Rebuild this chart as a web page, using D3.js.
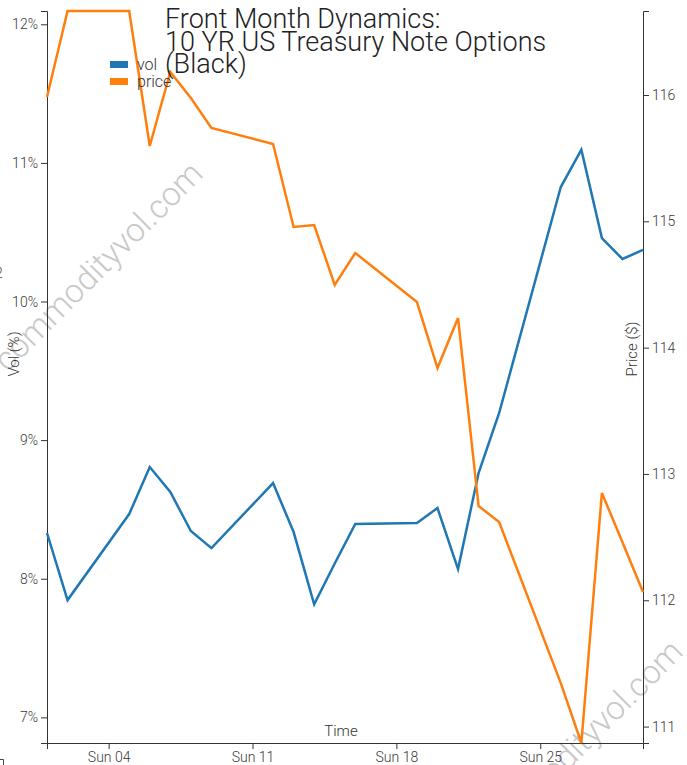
<!DOCTYPE html>
<html>
<head>
<meta charset="utf-8">
<script src="https://cdn.jsdelivr.net/npm/d3@7"></script>
<style>
  html, body { margin: 0; padding: 0; background: #fff; }
  svg { display: block; font-family: Roboto, sans-serif; }
</style>
</head>
<body>
<svg id="chart" width="687" height="765"></svg>
<script>
// ---- data ----
const dates = ["2018-03-01","2018-03-02","2018-03-05","2018-03-06","2018-03-07","2018-03-08","2018-03-09",
  "2018-03-12","2018-03-13","2018-03-14","2018-03-15","2018-03-16",
  "2018-03-19","2018-03-20","2018-03-21","2018-03-22","2018-03-23",
  "2018-03-26","2018-03-27","2018-03-28","2018-03-29","2018-03-30"];
const volValues = [8.33, 7.846, 8.467, 8.806, 8.626, 8.344, 8.221,
  8.69, 8.337, 7.815, 8.11, 8.395,
  8.402, 8.51, 8.07, 8.763, 9.196,
  10.826, 11.096, 10.458, 10.307, 10.372];
const priceValues = [115.984, 116.665, 116.665, 115.596, 116.182, 115.976, 115.739,
  115.612, 114.955, 114.971, 114.496, 114.749,
  114.361, 113.838, 114.234, 112.746, 112.619,
  111.344, 110.87, 112.849, 112.46, 112.065];
const seriesNames = ["vol", "price"];
const seriesColors = ["#1f77b4", "#ff7f0e"];
const titleLines = ["Front Month Dynamics:", "10 YR US Treasury Note Options", "(Black)"];
const watermark = "commodityvol.com";

// ---- layout ----
const svg = d3.select("#chart");
const L = 47, R = 643, T = 11, B = 743;
const parse = d3.timeParse("%Y-%m-%d");
const rows = dates.map((d, i) => ({ date: parse(d), vol: volValues[i], price: priceValues[i] }));

const x = d3.scaleTime().domain(d3.extent(rows, d => d.date)).range([L, R]);
const volExt = d3.extent(volValues);
const yVol = d3.scaleLinear().domain([volExt[0] - 1, volExt[1] + 1]).range([B, T]);
const yPrice = d3.scaleLinear().domain(d3.extent(priceValues)).range([B, T]);

// watermarks
[[100, 268], [580, 746]].forEach(([cx, cy]) => {
  svg.append("text")
    .attr("transform", `translate(${cx},${cy}) rotate(-45)`)
    .attr("text-anchor", "middle")
    .attr("dominant-baseline", "middle")
    .style("font-size", "33px")
    .style("font-weight", 300)
    .attr("fill", "#c8c8c8")
    .text(watermark);
});

// axes
const axisStyle = g => {
  g.selectAll("path, line").attr("stroke", "#333");
  g.selectAll("text").attr("fill", "#3a3a3a").style("font-size", "14px").style("font-family", "Roboto, sans-serif").style("font-weight", 300);
};
svg.append("g").attr("transform", `translate(0,${B})`)
  .call(d3.axisBottom(x).ticks(d3.timeWeek).tickFormat(d3.timeFormat("%a %d")))
  .call(axisStyle);
svg.append("g").attr("transform", `translate(${L},0)`)
  .call(d3.axisLeft(yVol).ticks(5).tickFormat(d => d + "%"))
  .call(axisStyle);
svg.append("g").attr("transform", `translate(${R},0)`)
  .call(d3.axisRight(yPrice).ticks(5))
  .call(axisStyle);

// axis labels
svg.append("text").attr("x", 341).attr("y", 736).attr("text-anchor", "middle")
  .style("font-size", "15px").style("font-weight", 300).attr("fill", "#333").text("Time");
svg.append("text").attr("transform", "translate(19,354) rotate(-90)").attr("text-anchor", "middle")
  .style("font-size", "15px").style("font-weight", 300).attr("fill", "#333").text("Vol (%)");
svg.append("text").attr("transform", "translate(637,349) rotate(-90)").attr("text-anchor", "middle")
  .style("font-size", "15px").style("font-weight", 300).attr("fill", "#333").text("Price ($)");

// stray clipped marks at left
svg.append("text").attr("x", -5).attr("y", 278).style("font-size", "14px").style("font-weight", 300).attr("fill", "#444").text("2");
svg.append("path").attr("d", "M0,759.5H3.5V765").attr("stroke", "#444").attr("fill", "none");

// lines
const lineVol = d3.line().x(d => x(d.date)).y(d => yVol(d.vol));
const linePrice = d3.line().x(d => x(d.date)).y(d => yPrice(d.price));
svg.append("path").datum(rows).attr("d", lineVol).attr("fill", "none")
  .attr("stroke", seriesColors[0]).attr("stroke-width", 2.5);
svg.append("path").datum(rows).attr("d", linePrice).attr("fill", "none")
  .attr("stroke", seriesColors[1]).attr("stroke-width", 2.5);

// legend
const leg = svg.append("g").attr("transform", "translate(110,61)");
seriesNames.forEach((n, i) => {
  leg.append("rect").attr("x", 0).attr("y", i * 17).attr("width", 18).attr("height", 7).attr("fill", seriesColors[i]);
  leg.append("text").attr("x", 27).attr("y", i * 17 + 9).style("font-size", "16px").style("font-weight", 300)
    .attr("fill", "#333").text(n);
});

// title
const title = svg.append("text").attr("x", 165).attr("y", 28)
  .style("font-size", "27px").style("font-weight", 300).attr("fill", "#222");
titleLines.forEach((t, i) => {
  title.append("tspan").attr("x", 165).attr("dy", i === 0 ? 0 : 22.5).text(t);
});
</script>
</body>
</html>
